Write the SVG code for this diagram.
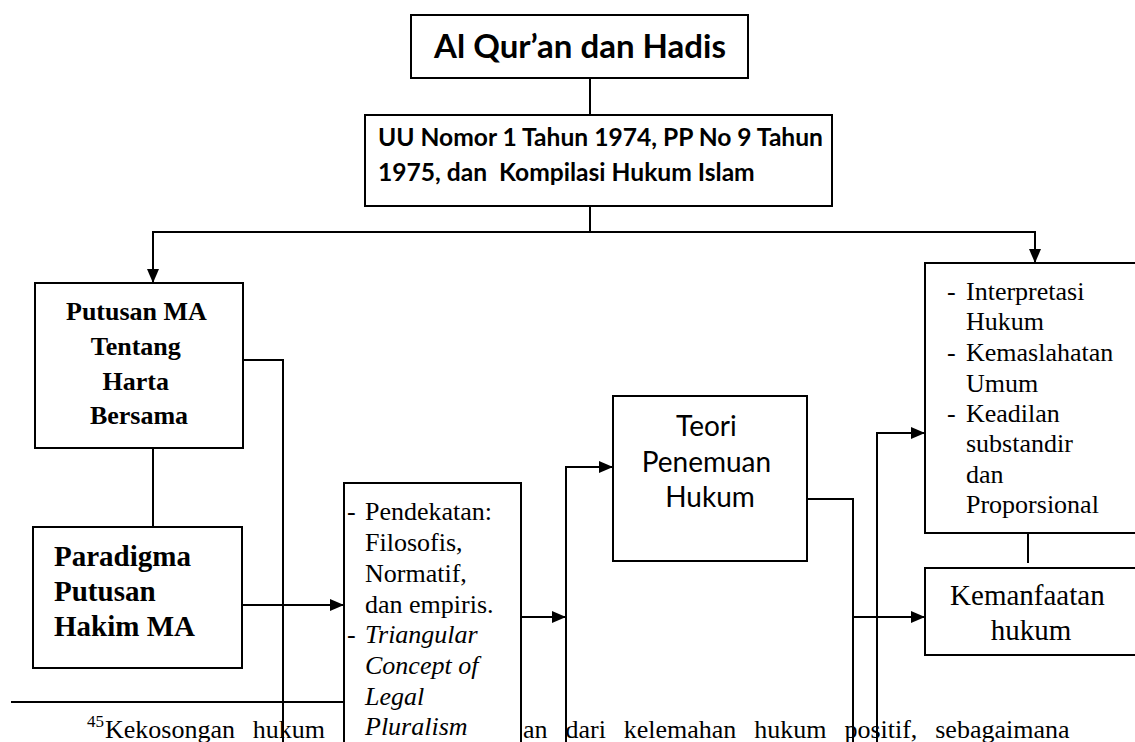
<svg xmlns="http://www.w3.org/2000/svg" width="1135" height="742" viewBox="0 0 1135 742">
<style>
.box{fill:#fff;stroke:#000;stroke-width:2}
.ln{fill:none;stroke:#000;stroke-width:2}
.ser{font-family:"Liberation Serif","Times New Roman",serif;fill:#000}
.sans{font-family:Lato,"Liberation Sans",sans-serif;fill:#000}
.b{font-weight:bold}
.it{font-style:italic}
</style>
<defs>
<marker id="ah" markerUnits="userSpaceOnUse" markerWidth="14" markerHeight="12" refX="14" refY="6" orient="auto">
<path d="M0,0 L14,6 L0,12 z" fill="#000"/>
</marker>
</defs>
<rect width="1135" height="742" fill="#fff"/>
<g id="footnote">
<text class="ser" x="87" y="727" font-size="17">45</text>
<text class="ser" x="105" y="738" font-size="26" word-spacing="11.4">Kekosongan hukum</text>
<text class="ser" x="523" y="738" font-size="26" word-spacing="11.4">an dari kelemahan hukum positif, sebagaimana</text>
<path class="ln" d="M11,702 H344"/>
</g>
<g id="connectors">
<path class="ln" d="M590,78 V115"/>
<path class="ln" d="M590,206 V232"/>
<path class="ln" d="M590,232 H153 V283" marker-end="url(#ah)"/>
<path class="ln" d="M590,232 H1035 V263" marker-end="url(#ah)"/>
<path class="ln" d="M243,360 H283 V742"/>
<path class="ln" d="M153,448 V527"/>
<path class="ln" d="M242,605 H344" marker-end="url(#ah)"/>
<path class="ln" d="M521,617 H566" marker-end="url(#ah)"/>
<path class="ln" d="M566,742 V467 H613" marker-end="url(#ah)"/>
<path class="ln" d="M807,499 H853 V742"/>
<path class="ln" d="M853,617 H925" marker-end="url(#ah)"/>
<path class="ln" d="M877,742 V433 H925" marker-end="url(#ah)"/>
<path class="ln" d="M1028,533 V563"/>
</g>
<g id="n-alquran">
<rect class="box" x="411" y="15" width="337" height="63"/>
<text class="sans b" x="580" y="58" font-size="33" text-anchor="middle">Al Qur’an dan Hadis</text>
</g>
<g id="n-uu">
<rect class="box" x="365" y="115" width="467" height="91"/>
<text class="sans b" x="378" y="146" font-size="24.6">UU Nomor 1 Tahun 1974, PP No 9 Tahun</text>
<text class="sans b" x="378" y="181" font-size="24.6" xml:space="preserve">1975, dan  Kompilasi Hukum Islam</text>
</g>
<g id="n-putusan">
<rect class="box" x="35" y="283" width="208" height="165"/>
<text class="ser b" font-size="26" text-anchor="middle">
<tspan x="139" y="320">Putusan MA</tspan>
<tspan x="139" y="355">Tentang</tspan>
<tspan x="139" y="390">Harta</tspan>
<tspan x="139" y="424">Bersama</tspan>
</text>
</g>
<g id="n-paradigma">
<rect class="box" x="33" y="527" width="209" height="141"/>
<text class="ser b" font-size="29">
<tspan x="54" y="566">Paradigma</tspan>
<tspan x="54" y="601">Putusan</tspan>
<tspan x="54" y="636">Hakim MA</tspan>
</text>
</g>
<g id="n-pendekatan">
<rect class="box" x="344" y="483" width="177" height="275"/>
<text class="ser" font-size="26">
<tspan x="347" y="520">-</tspan>
<tspan x="365" y="520">Pendekatan:</tspan>
<tspan x="365" y="551">Filosofis,</tspan>
<tspan x="365" y="582">Normatif,</tspan>
<tspan x="365" y="613">dan empiris.</tspan>
<tspan x="347" y="643">-</tspan>
<tspan x="365" y="643" font-style="italic">Triangular</tspan>
<tspan x="365" y="674" font-style="italic">Concept of</tspan>
<tspan x="365" y="705" font-style="italic">Legal</tspan>
<tspan x="365" y="735" font-style="italic">Pluralism</tspan>
</text>
</g>
<g id="n-teori">
<rect class="box" x="613" y="396" width="194" height="165"/>
<text class="sans" font-size="28" text-anchor="middle">
<tspan x="710" y="436">Teori</tspan>
<tspan x="710" y="472">Penemuan</tspan>
<tspan x="710" y="507">Hukum</tspan>
</text>
</g>
<g id="n-interpretasi">
<rect class="box" x="925" y="263" width="220" height="270"/>
<text class="ser" font-size="26">
<tspan x="947" y="300">-</tspan>
<tspan x="966" y="300">Interpretasi</tspan>
<tspan x="966" y="330">Hukum</tspan>
<tspan x="947" y="361">-</tspan>
<tspan x="966" y="361">Kemaslahatan</tspan>
<tspan x="966" y="392">Umum</tspan>
<tspan x="947" y="422">-</tspan>
<tspan x="966" y="422">Keadilan</tspan>
<tspan x="966" y="452">substandir</tspan>
<tspan x="966" y="483">dan</tspan>
<tspan x="966" y="513">Proporsional</tspan>
</text>
</g>
<g id="n-kemanfaatan">
<rect class="box" x="925" y="568" width="220" height="87"/>
<text class="ser" font-size="29" text-anchor="middle">
<tspan x="1031" y="605">Kemanfaatan</tspan>
<tspan x="1031" y="640">hukum</tspan>
</text>
</g>
</svg>
